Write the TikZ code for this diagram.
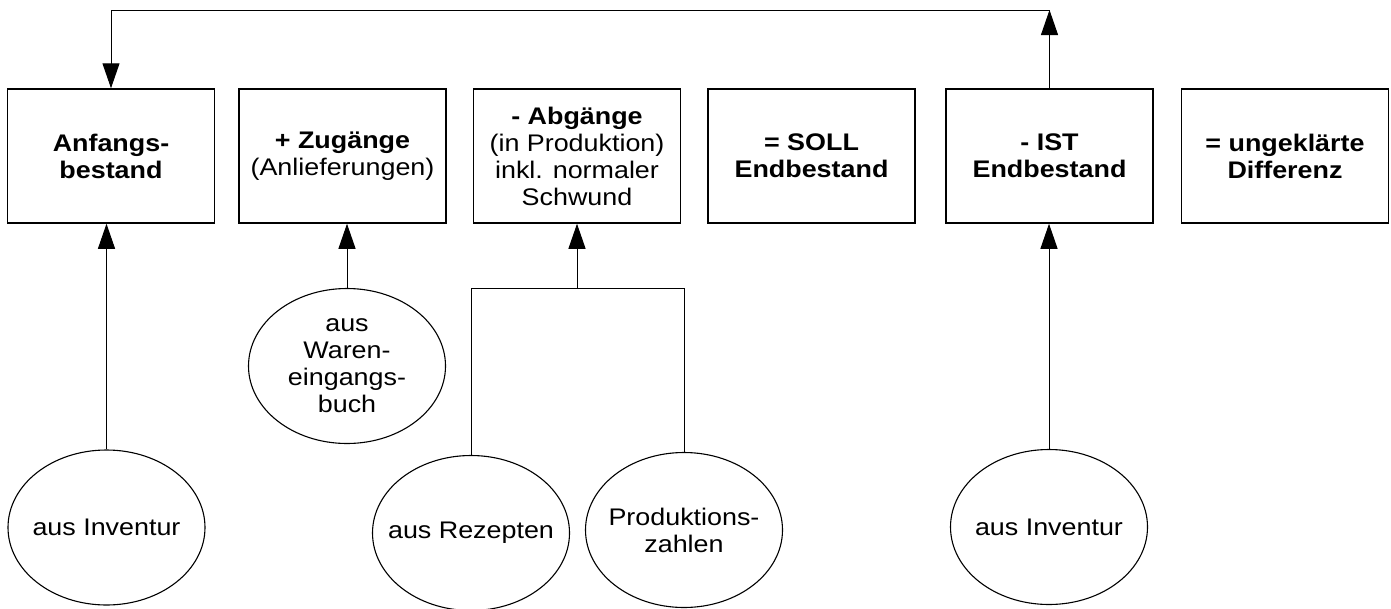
\documentclass[tikz,border=0pt]{standalone}
\usepackage{fontspec}
\setmainfont[FakeStretch=1.12]{Liberation Sans}
\usetikzlibrary{shapes.geometric,arrows.meta}
\newcommand\diafs{\fontsize{24}{27}\selectfont}
\begin{document}
\begin{tikzpicture}[x=1pt,y=-1pt,
  box/.style={draw,line width=1.5pt,minimum width=207pt,minimum height=134pt,inner sep=0pt,align=center,font=\diafs},
  src/.style={draw,ellipse,line width=1.1pt,minimum width=197pt,minimum height=155pt,inner sep=0pt,
    label={[font=\diafs,align=center,inner sep=0pt]center:#1}},
  con/.style={line width=1pt},
  arr/.style={con,-{Triangle[length=25pt,width=17pt]}}]
\useasboundingbox (0,0) rectangle (1391,608);
\node[box] (b1) at (111,156) {\textbf{Anfangs-}\\\textbf{bestand}};
\node[box] (b2) at (342.5,156) {\textbf{+ Zugänge}\\(Anlieferungen)};
\node[box] (b3) at (577,156) {\textbf{- Abgänge}\\(in Produktion)\\inkl. normaler\\Schwund};
\node[box] (b4) at (811.5,156) {\textbf{= SOLL}\\\textbf{Endbestand}};
\node[box] (b5) at (1049.5,156) {\textbf{- IST}\\\textbf{Endbestand}};
\node[box] (b6) at (1285,156) {\textbf{= ungeklärte}\\\textbf{Differenz}};
\node[src={aus Inventur}] (e1) at (106.5,527.5) {};
\node[src={aus\\Waren-\\eingangs-\\buch}] (e2) at (347,366) {};
\node[src={aus Rezepten}] (e3) at (471,533) {};
\node[src={Produktions-\\zahlen}] (e4) at (684,530) {};
\node[src={aus Inventur}] (e5) at (1049,527) {};
\draw[arr] (e1.north) -- (e1.north |- b1.south);
\draw[arr] (e2.north) -- (e2.north |- b2.south);
\coordinate (j) at (b3.south |- 0,288);
\draw[con] (e3.north) |- (e4.north |- j) -- (e4.north);
\draw[arr] (j) -- (b3.south);
\draw[arr] (e5.north) -- (e5.north |- b5.south);
\coordinate (t) at (b5.north |- 0,10);
\draw[arr] (b5.north) -- (t);
\draw[arr] (t) -| (b1.north);
\end{tikzpicture}
\end{document}
